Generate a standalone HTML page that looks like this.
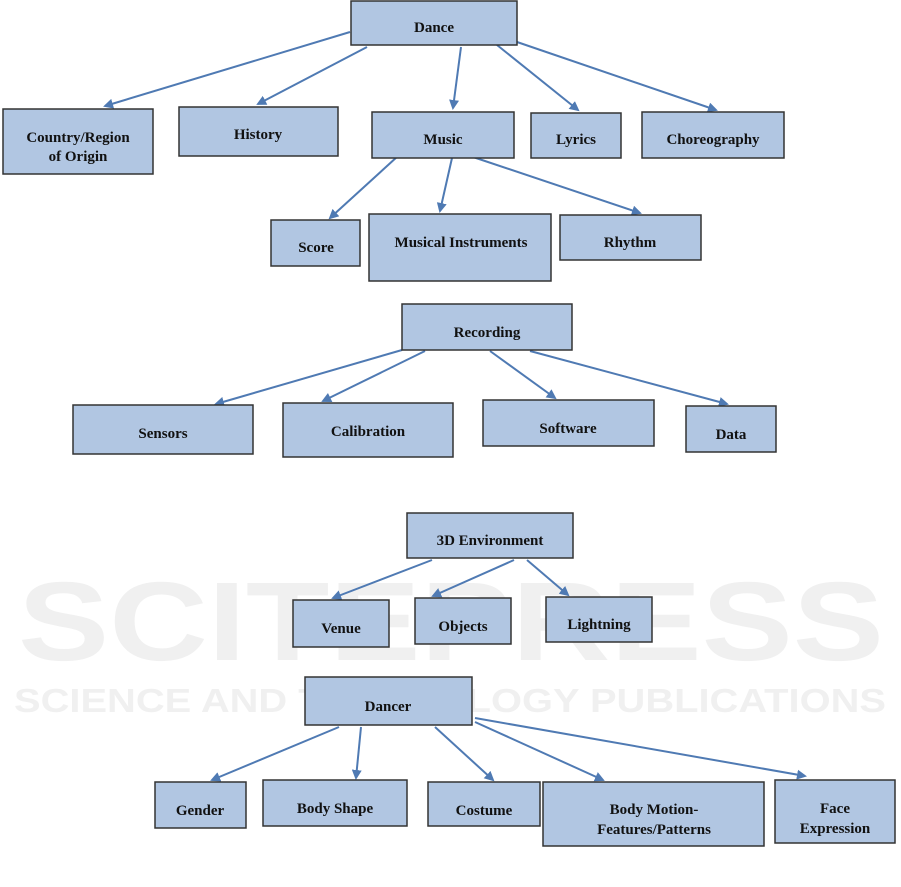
<!DOCTYPE html>
<html><head><meta charset="utf-8"><style>
html,body{margin:0;padding:0;background:#fff;}
svg{display:block;}
.b{fill:#b1c6e2;stroke:#333;stroke-width:1.5;}
.t{font-family:"Liberation Serif",serif;font-weight:bold;font-size:15px;fill:#111;text-anchor:middle;}
.l{stroke:#4f7ab3;stroke-width:2;fill:none;marker-end:url(#a);}
.w{font-family:"Liberation Sans",sans-serif;font-weight:bold;fill:#f0f0f0;}
</style></head><body>
<svg width="901" height="887" viewBox="0 0 901 887" xmlns="http://www.w3.org/2000/svg">
<defs><marker id="a" markerWidth="10" markerHeight="10" refX="8" refY="5" orient="auto" markerUnits="userSpaceOnUse"><path d="M0,0 L10,5 L0,10 Z" fill="#4f7ab3"/></marker></defs>
<text class="w" x="18" y="660" font-size="112" textLength="866" lengthAdjust="spacingAndGlyphs">SCITEPRESS</text>
<text class="w" x="14" y="712" font-size="33" textLength="872" lengthAdjust="spacingAndGlyphs">SCIENCE AND TECHNOLOGY PUBLICATIONS</text>
<g>
<line class="l" x1="350" y1="32" x2="105" y2="106"/>
<line class="l" x1="367" y1="47" x2="258" y2="104"/>
<line class="l" x1="461" y1="47" x2="453" y2="108"/>
<line class="l" x1="497" y1="45" x2="578" y2="110"/>
<line class="l" x1="517" y1="42" x2="716" y2="110"/>
<line class="l" x1="398" y1="156" x2="330" y2="218"/>
<line class="l" x1="452" y1="158" x2="440" y2="211"/>
<line class="l" x1="470" y1="156" x2="640" y2="213"/>
<line class="l" x1="402" y1="350" x2="216" y2="404"/>
<line class="l" x1="425" y1="351" x2="323" y2="401"/>
<line class="l" x1="490" y1="351" x2="555" y2="398"/>
<line class="l" x1="530" y1="351" x2="727" y2="404"/>
<line class="l" x1="432" y1="560" x2="333" y2="598"/>
<line class="l" x1="514" y1="560" x2="433" y2="596"/>
<line class="l" x1="527" y1="560" x2="568" y2="595"/>
<line class="l" x1="339" y1="727" x2="212" y2="780"/>
<line class="l" x1="361" y1="727" x2="356" y2="778"/>
<line class="l" x1="435" y1="727" x2="493" y2="780"/>
<line class="l" x1="475" y1="722" x2="603" y2="780"/>
<line class="l" x1="475" y1="718" x2="805" y2="776"/>
</g>
<g>
<rect class="b" x="351" y="1" width="166" height="44"/><text class="t" x="434" y="32">Dance</text>
<rect class="b" x="3" y="109" width="150" height="65"/><text class="t" x="78" y="142">Country/Region</text><text class="t" x="78" y="161">of Origin</text>
<rect class="b" x="179" y="107" width="159" height="49"/><text class="t" x="258" y="139">History</text>
<rect class="b" x="372" y="112" width="142" height="46"/><text class="t" x="443" y="144">Music</text>
<rect class="b" x="531" y="113" width="90" height="45"/><text class="t" x="576" y="144">Lyrics</text>
<rect class="b" x="642" y="112" width="142" height="46"/><text class="t" x="713" y="144">Choreography</text>
<rect class="b" x="271" y="220" width="89" height="46"/><text class="t" x="316" y="252">Score</text>
<rect class="b" x="369" y="214" width="182" height="67"/><text class="t" x="461" y="247">Musical Instruments</text>
<rect class="b" x="560" y="215" width="141" height="45"/><text class="t" x="630" y="247">Rhythm</text>
<rect class="b" x="402" y="304" width="170" height="46"/><text class="t" x="487" y="337">Recording</text>
<rect class="b" x="73" y="405" width="180" height="49"/><text class="t" x="163" y="438">Sensors</text>
<rect class="b" x="283" y="403" width="170" height="54"/><text class="t" x="368" y="436">Calibration</text>
<rect class="b" x="483" y="400" width="171" height="46"/><text class="t" x="568" y="433">Software</text>
<rect class="b" x="686" y="406" width="90" height="46"/><text class="t" x="731" y="439">Data</text>
<rect class="b" x="407" y="513" width="166" height="45"/><text class="t" x="490" y="545">3D Environment</text>
<rect class="b" x="293" y="600" width="96" height="47"/><text class="t" x="341" y="633">Venue</text>
<rect class="b" x="415" y="598" width="96" height="46"/><text class="t" x="463" y="631">Objects</text>
<rect class="b" x="546" y="597" width="106" height="45"/><text class="t" x="599" y="629">Lightning</text>
<rect class="b" x="305" y="677" width="167" height="48"/><text class="t" x="388" y="711">Dancer</text>
<rect class="b" x="155" y="782" width="91" height="46"/><text class="t" x="200" y="815">Gender</text>
<rect class="b" x="263" y="780" width="144" height="46"/><text class="t" x="335" y="813">Body Shape</text>
<rect class="b" x="428" y="782" width="112" height="44"/><text class="t" x="484" y="815">Costume</text>
<rect class="b" x="543" y="782" width="221" height="64"/><text class="t" x="654" y="814">Body Motion-</text><text class="t" x="654" y="834">Features/Patterns</text>
<rect class="b" x="775" y="780" width="120" height="63"/><text class="t" x="835" y="813">Face</text><text class="t" x="835" y="833">Expression</text>
</g>
</svg>
</body></html>
